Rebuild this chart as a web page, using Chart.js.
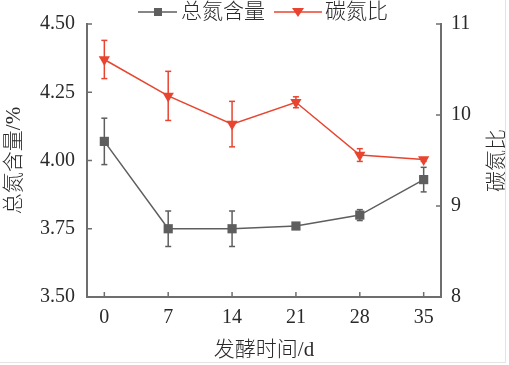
<!DOCTYPE html>
<html><head><meta charset="utf-8">
<script src="https://cdn.jsdelivr.net/npm/chart.js@4"></script>
<style>body{margin:0;background:#fff}</style>
</head><body>
<canvas id="chart" width="509" height="365"></canvas>
<script>
// fermentation days and measured values
const days = [0,7,14,21,28,35];
const nitrogen = [4.07,3.75,3.75,3.76,3.80,3.93];
const nitrogenErr = [0.085,0.065,0.065,0.008,0.02,0.045];
const cnRatio = [10.61,10.21,9.90,10.14,9.56,9.51];
const cnErr = [0.21,0.27,0.25,0.06,0.07,0.02];
const leftTicks = [3.50,3.75,4.00,4.25,4.50];
const rightTicks = [8,9,10,11];

const gray = "#5e5e5e";
const red = "#e8442f";
const axisColor = "#6e6e6e";
const textColor = "#2a2a2a";
const fam = "'Liberation Serif','Noto Sans CJK SC',serif";

function seg(ctx,x1,y1,x2,y2){ctx.beginPath();ctx.moveTo(x1,y1);ctx.lineTo(x2,y2);ctx.stroke();}

// error bars drawn from the scales, behind the markers
const errorBars = {
id:"errorBars",
beforeDatasetsDraw(c){
const ctx=c.ctx;
const sets=[[0,nitrogen,nitrogenErr,c.scales.y,gray],[1,cnRatio,cnErr,c.scales.y1,red]];
ctx.save();
ctx.lineWidth=1.5;
sets.forEach(([i,vals,errs,sc,col])=>{
ctx.strokeStyle=col;
c.getDatasetMeta(i).data.forEach((p,k)=>{
let top=sc.getPixelForValue(vals[k]+errs[k]);
let bot=sc.getPixelForValue(vals[k]-errs[k]);
seg(ctx,p.x,top,p.x,bot);
seg(ctx,p.x-3,top,p.x+3,top);
seg(ctx,p.x-3,bot,p.x+3,bot);
});
});
ctx.restore();
}
};

// inward tick marks, legend, right title
const extras = {
id:"extras",
afterDraw(c){
const ctx=c.ctx, a=c.chartArea;
ctx.save();
ctx.strokeStyle=axisColor;
ctx.lineWidth=1.5;
c.scales.x.ticks.forEach(t=>{let px=c.scales.x.getPixelForValue(t.value);seg(ctx,px,a.bottom,px,a.bottom-5);});
c.scales.y.ticks.forEach(t=>{let py=c.scales.y.getPixelForValue(t.value);seg(ctx,a.left,py,a.left+5,py);});
c.scales.y1.ticks.forEach(t=>{let py=c.scales.y1.getPixelForValue(t.value);seg(ctx,a.right,py,a.right-5,py);});

// legend
let ly=12;
ctx.lineWidth=1.5;
ctx.strokeStyle=gray;
seg(ctx,138,ly,177,ly);
ctx.fillStyle=gray;
ctx.fillRect(154,ly-4,8,8);
ctx.strokeStyle=red;
seg(ctx,274,ly,322,ly);
ctx.fillStyle=red;
ctx.beginPath();ctx.moveTo(292,ly-4);ctx.lineTo(304,ly-4);ctx.lineTo(298,ly+5);ctx.closePath();ctx.fill();
ctx.fillStyle=textColor;
ctx.font="300 21px "+fam;
ctx.textBaseline="middle";
ctx.textAlign="left";
ctx.fillText("总氮含量",181,ly);
ctx.fillText("碳氮比",325,ly);

// right axis title, reading bottom to top
ctx.translate(497,(a.top+a.bottom)/2);
ctx.rotate(-Math.PI/2);
ctx.textAlign="center";
ctx.fillText("碳氮比",0,0);
ctx.restore();

// faint frame of the figure
ctx.save();
ctx.strokeStyle="#e4e4e4";
ctx.lineWidth=1;
seg(ctx,505.5,0,505.5,362.5);
seg(ctx,0,362.5,505.5,362.5);
ctx.restore();
}
};

const tickFont={family:fam,size:20};
const titleFont={family:fam,size:21,weight:300};

chart=new Chart(document.getElementById("chart"),{
type:"line",
data:{datasets:[
{label:"总氮含量",data:days.map((d,i)=>({x:d,y:nitrogen[i]})),yAxisID:"y",
borderColor:gray,backgroundColor:gray,borderWidth:1.5,pointStyle:"rect",pointRadius:6.5,pointBorderWidth:0,tension:0},
{label:"碳氮比",data:days.map((d,i)=>({x:d,y:cnRatio[i]})),yAxisID:"y1",
borderColor:red,backgroundColor:red,borderWidth:1.5,pointStyle:"triangle",rotation:180,pointRadius:6.5,pointBorderWidth:0,tension:0}
]},
options:{
responsive:false,
animation:false,
layout:{padding:{top:21,left:0,right:0,bottom:0}},
plugins:{legend:{display:false},tooltip:{enabled:false}},
scales:{
x:{type:"linear",min:-1.9,max:36.9,
afterBuildTicks:s=>{s.ticks=days.map(v=>({value:v}));},
afterFit:s=>{s.height=68;},
grid:{display:true,drawOnChartArea:false,drawTicks:false},
border:{display:true,color:axisColor,width:2},
ticks:{font:tickFont,color:textColor,padding:9},
title:{display:true,text:"发酵时间/d",font:titleFont,color:textColor,padding:{top:0,bottom:2}}
},
y:{position:"left",min:3.5,max:4.5,
afterBuildTicks:s=>{s.ticks=leftTicks.map(v=>({value:v}));},
afterFit:s=>{s.width=87;},
grid:{display:true,drawOnChartArea:false,drawTicks:false},
border:{display:true,color:axisColor,width:2},
ticks:{font:tickFont,color:textColor,padding:12,callback:v=>v.toFixed(2)},
title:{display:true,text:"总氮含量/%",font:titleFont,color:textColor,padding:{top:2,bottom:0}}
},
y1:{position:"right",min:8,max:11,
afterBuildTicks:s=>{s.ticks=rightTicks.map(v=>({value:v}));},
afterFit:s=>{s.width=68;},
grid:{display:true,drawOnChartArea:false,drawTicks:false},
border:{display:true,color:axisColor,width:2},
ticks:{font:tickFont,color:textColor,padding:10}
}
}
},
plugins:[errorBars,extras]
});
</script>
</body></html>
